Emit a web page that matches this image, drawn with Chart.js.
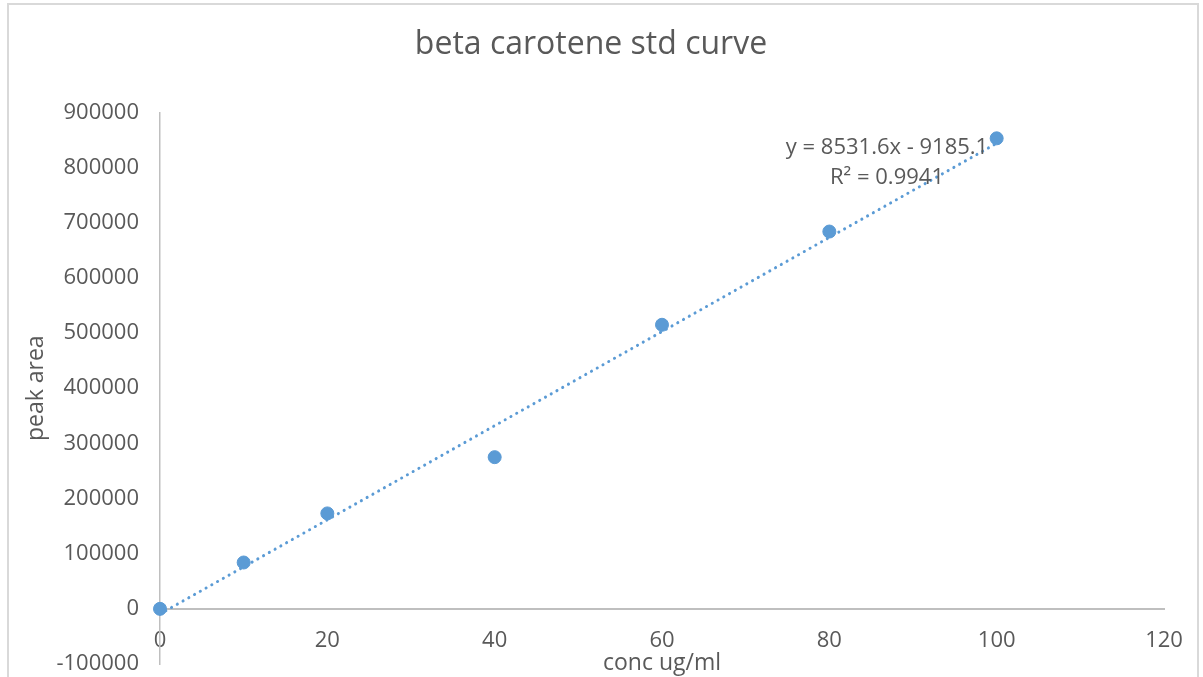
<!DOCTYPE html>
<html>
<head>
<meta charset="utf-8">
<script src="https://cdn.jsdelivr.net/npm/chart.js@4/dist/chart.umd.min.js"></script>
<style>
  body { margin: 0; background: #fff; }
  #wrap { width: 1203px; height: 677px; }
</style>
</head>
<body>
<div id="wrap"><canvas id="grafica" width="1203" height="677"></canvas></div>
<script>
// datos
const concX = [0, 10, 20, 40, 60, 80, 100];
const peakArea = [0, 84000, 173000, 275000, 515000, 684000, 853000];
const xTicks = [0, 20, 40, 60, 80, 100, 120];
const yTicks = [-100000, 0, 100000, 200000, 300000, 400000, 500000, 600000, 700000, 800000, 900000];

// linea de tendencia (ecuacion del grafico)
const pendiente = 8531.6;
const intercepto = -9185.1;
const rango = [0, 100];
const ecuacion = ["y = 8531.6x - 9185.1", "R\u00b2 = 0.9941"];

const azul = "#5b9bd5";
const gris = "#595959";

const puntos = concX.map((x, i) => ({ x: x, y: peakArea[i] }));
const tendencia = rango.map(x => ({ x: x, y: pendiente * x + intercepto }));

// marco exterior y etiqueta de la ecuacion
const extras = {
    id: "extras",
    beforeDraw(chart) {
        const ctx = chart.ctx;
        ctx.save();
        ctx.fillStyle = "#fff";
        ctx.fillRect(0, 0, chart.width, chart.height);
        ctx.strokeStyle = "#d9d9d9";
        ctx.lineWidth = 2;
        ctx.beginPath();
        ctx.moveTo(8, 700);
        ctx.lineTo(8, 4);
        ctx.lineTo(1198, 4);
        ctx.lineTo(1198, 700);
        ctx.stroke();
        ctx.restore();
    },
    afterDatasetsDraw(chart) {
        const ctx = chart.ctx;
        ctx.save();
        ctx.font = "22px 'Open Sans'";
        ctx.fillStyle = gris;
        ctx.textAlign = "center";
        ctx.textBaseline = "middle";
        ctx.fillText(ecuacion[0], 887, 148);
        ctx.fillText(ecuacion[1], 887, 178);
        ctx.restore();
    }
};

Chart.defaults.font.family = "'Open Sans'";
Chart.defaults.color = gris;

const ctx = document.getElementById("grafica").getContext("2d");
const myChart = new Chart(ctx, {
    type: "scatter",
    data: {
        datasets: [
            {
                data: puntos,
                backgroundColor: azul,
                borderColor: azul,
                pointRadius: 6.5,
                pointHoverRadius: 6.5,
                clip: false,
                order: 1
            },
            {
                type: "line",
                data: tendencia,
                borderColor: azul,
                borderWidth: 3,
                borderDash: [0.1, 6.5],
                borderCapStyle: "round",
                pointRadius: 0,
                fill: false,
                clip: false,
                order: 0
            }
        ]
    },
    options: {
        responsive: false,
        animation: false,
        layout: { padding: { left: 18, right: 39, top: 0, bottom: 13 } },
        plugins: {
            legend: { display: false },
            tooltip: { enabled: false },
            title: {
                display: true,
                text: "beta carotene std curve",
                color: gris,
                font: { size: 32, weight: "normal" },
                padding: { top: 26, bottom: 48 }
            }
        },
        scales: {
            x: {
                type: "linear",
                position: { y: 0 },
                min: 0,
                max: 120,
                afterBuildTicks: s => { s.ticks = xTicks.map(v => ({ value: v })); },
                grid: { display: false, drawTicks: false },
                border: { display: true, color: "#bfbfbf", width: 2 },
                ticks: { font: { size: 22 }, padding: 19, color: gris },
                title: { display: true, text: "conc ug/ml", font: { size: 23 }, color: gris, padding: { top: -24, bottom: 0 } }
            },
            y: {
                type: "linear",
                position: "left",
                min: -100000,
                max: 900000,
                afterBuildTicks: s => { s.ticks = yTicks.map(v => ({ value: v })); },
                afterFit: s => { s.width = 142; s.paddingTop = 0; s.paddingBottom = 0; },
                grid: { display: false, drawTicks: false },
                border: { display: true, color: "#bfbfbf", width: 1.5 },
                ticks: { font: { size: 22 }, padding: 21, color: gris, callback: v => String(v) },
                title: { display: true, text: "peak area", font: { size: 23 }, color: gris, padding: { top: 5, bottom: 0 } }
            }
        }
    },
    plugins: [extras]
});
</script>
</body>
</html>
